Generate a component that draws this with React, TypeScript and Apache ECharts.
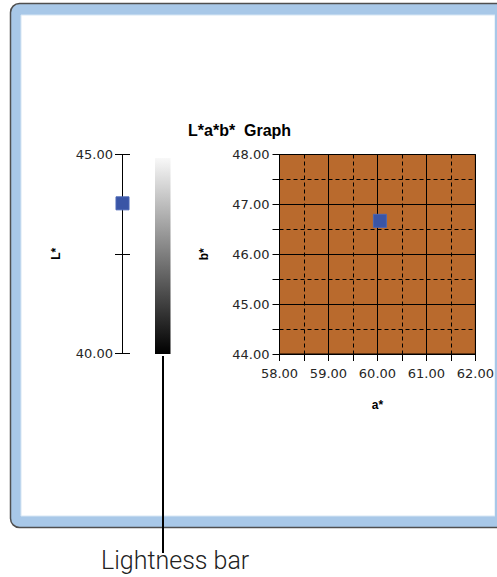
import React, { useEffect, useRef } from 'react';
import * as echarts from 'echarts';

// ---- data ----
const lightnessRange = [40, 45];
const lightnessInterval = 2.5;
const lightnessValue = [43.77];
const aRange = [58, 62];
const bRange = [44, 48];
const labPoints = [[60.05, 46.67]];
const gradientColors = ['#f8f8f8', '#000000'];
const titleText = 'L*a*b*  Graph';
const lAxisName = 'L*';
const aAxisName = 'a*';
const bAxisName = 'b*';
const annotationText = 'Lightness bar';

const FONT = 'DejaVu Sans';
const labelStyle = { fontFamily: FONT, fontSize: 13, color: '#262626' };
const nameStyle = { fontFamily: 'Liberation Sans', fontSize: 12, fontWeight: 'bold' as const, color: '#000' };

export default function App() {
  const ref = useRef<HTMLDivElement>(null);
  useEffect(() => {
    if (!ref.current) return;
    const chart = echarts.init(ref.current, null, { renderer: 'svg' });
    const black = { color: '#000', width: 1 };
    const markerStyle = { color: '#3a55a6', borderColor: '#4a66b5', borderWidth: 1, opacity: 1 };
    const option: any = {
      animation: false,
      backgroundColor: '#ffffff',
      title: {
        text: titleText,
        left: 183,
        top: 117,
        textStyle: { fontFamily: 'Liberation Sans', fontSize: 16, fontWeight: 'bold', color: '#000' },
      },
      grid: [
        { left: 115, top: 154.5, width: 15, height: 198.5 },
        {
          left: 279.5, top: 154.5, width: 199, height: 199.5,
          show: true, backgroundColor: '#b96a2d', borderColor: '#000', borderWidth: 1,
        },
      ],
      xAxis: [
        { gridIndex: 0, type: 'value', min: -1, max: 1, show: false },
        {
          gridIndex: 1, type: 'value', min: aRange[0], max: aRange[1], interval: 1,
          name: aAxisName, nameLocation: 'middle', nameGap: 45, nameTextStyle: nameStyle,
          axisLine: { show: true, onZero: false, lineStyle: black },
          axisTick: { show: true, length: 7, lineStyle: black },
          minorTick: { show: true, splitNumber: 2, length: 7, lineStyle: black },
          splitLine: { show: true, lineStyle: black },
          minorSplitLine: { show: true, lineStyle: { color: '#000', width: 1, type: [4, 3] } },
          axisLabel: { ...labelStyle, margin: 13, formatter: (v: number) => v.toFixed(2) },
        },
      ],
      yAxis: [
        {
          gridIndex: 0, type: 'value', min: lightnessRange[0], max: lightnessRange[1], interval: lightnessInterval,
          name: lAxisName, nameLocation: 'middle', nameGap: 53, nameTextStyle: nameStyle,
          axisLine: { show: true, onZero: true, lineStyle: black },
          axisTick: { show: false },
          splitLine: { show: true, lineStyle: black },
          axisLabel: {
            ...labelStyle, margin: 2,
            formatter: (v: number) => (v === lightnessRange[0] || v === lightnessRange[1] ? v.toFixed(2) : ''),
          },
        },
        {
          gridIndex: 1, type: 'value', min: bRange[0], max: bRange[1], interval: 1,
          name: bAxisName, nameLocation: 'middle', nameGap: 70, nameTextStyle: nameStyle,
          axisLine: { show: true, onZero: false, lineStyle: black },
          axisTick: { show: true, length: 7, lineStyle: black },
          minorTick: { show: true, splitNumber: 2, length: 7, lineStyle: black },
          splitLine: { show: true, lineStyle: black },
          minorSplitLine: { show: true, lineStyle: { color: '#000', width: 1, type: [4, 3] } },
          axisLabel: { ...labelStyle, margin: 10, formatter: (v: number) => v.toFixed(2) },
        },
      ],
      series: [
        {
          type: 'scatter', xAxisIndex: 0, yAxisIndex: 0,
          data: lightnessValue.map((v) => [0, v]),
          symbol: 'rect', symbolSize: 13,
          itemStyle: markerStyle,
        },
        {
          type: 'scatter', xAxisIndex: 1, yAxisIndex: 1,
          data: labPoints,
          symbol: 'rect', symbolSize: 13,
          itemStyle: markerStyle,
        },
      ],
      graphic: [
        {
          type: 'rect', z: -10, silent: true,
          shape: { x: 10.5, y: 3.5, width: 520, height: 524, r: 9 },
          style: { fill: '#a8c8e8', stroke: '#4f4f4f', lineWidth: 1.5 },
        },
        {
          type: 'rect', z: -9, silent: true,
          shape: { x: 21, y: 15, width: 474, height: 501 },
          style: { fill: '#ffffff', stroke: '#d6e6f4', lineWidth: 1 },
        },
        {
          type: 'rect', z: 100, silent: true,
          shape: { x: 495, y: 15, width: 10, height: 501 },
          style: { fill: '#a8c8e8' },
        },
        {
          type: 'rect', z: 5, silent: true,
          shape: { x: 155, y: 158, width: 15.5, height: 196 },
          style: {
            fill: new echarts.graphic.LinearGradient(0, 0, 0, 1, [
              { offset: 0, color: gradientColors[0] },
              { offset: 1, color: gradientColors[1] },
            ]),
          },
        },
        {
          type: 'line', z: 50, silent: true,
          shape: { x1: 163, y1: 356, x2: 163, y2: 553 },
          style: { stroke: '#000', lineWidth: 2 },
        },
        {
          type: 'text', z: 50, silent: true, x: 101, y: 548,
          style: {
            text: annotationText, fill: '#222', fontFamily: 'Roboto', fontWeight: 300, fontSize: 25,
            verticalAlign: 'top',
          },
        },
      ],
    };
    chart.setOption(option);
    return () => chart.dispose();
  }, []);
  return (
    <div
      ref={ref}
      style={{ position: 'fixed', left: 0, top: 0, width: 497, height: 577 }}
    />
  );
}
